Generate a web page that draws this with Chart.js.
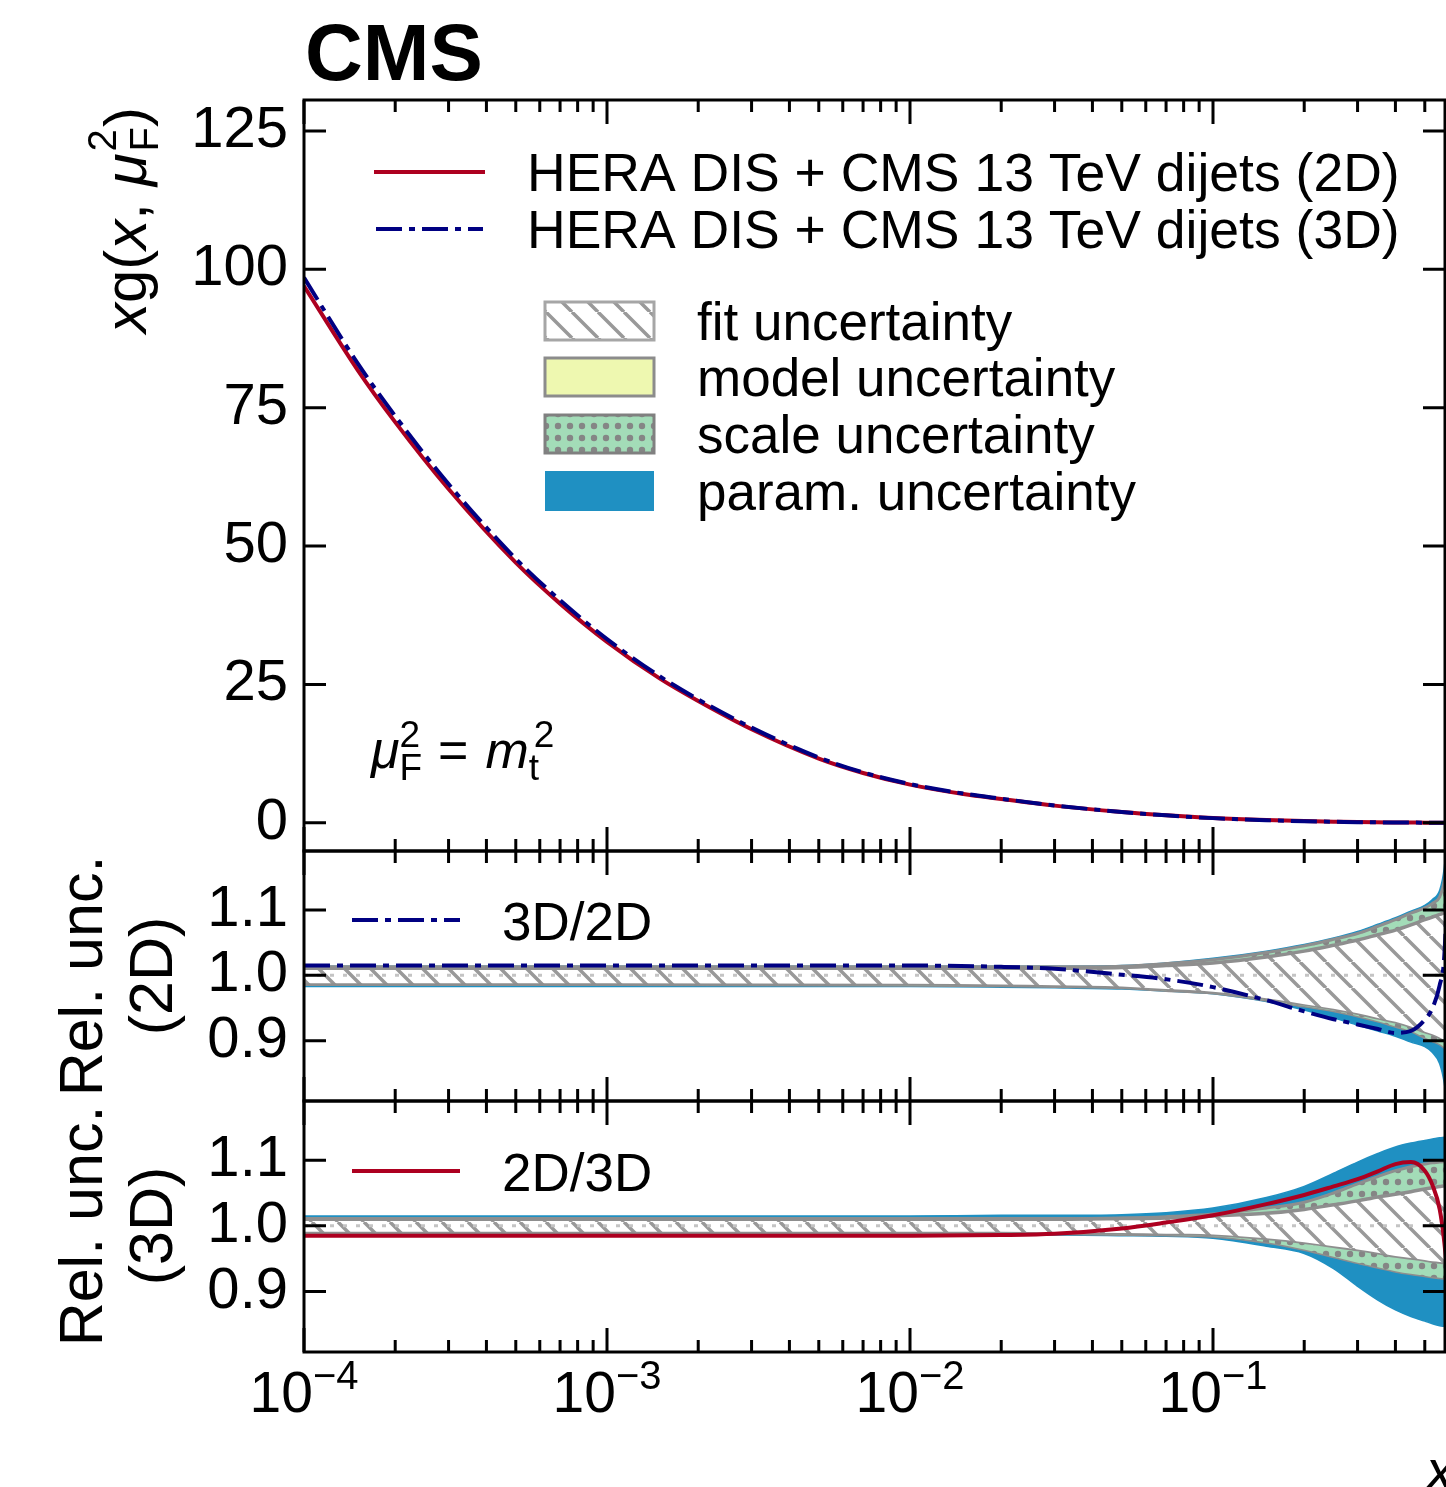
<!DOCTYPE html>
<html>
<head>
<meta charset="utf-8">
<script src="https://cdn.jsdelivr.net/npm/chart.js@4.4.1/dist/chart.umd.min.js"></script>
<style>
  html, body { margin: 0; padding: 0; background: #fff; overflow: hidden; }
  #wrap { position: relative; width: 1446px; height: 1487px; }
  canvas { position: absolute; left: 0; top: 0; }
</style>
</head>
<body>
<div id="wrap">
  <canvas id="main" width="1446" height="1487"></canvas>
  <canvas id="r2d" width="1446" height="1487"></canvas>
  <canvas id="r3d" width="1446" height="1487"></canvas>
</div>
<script>
"use strict";

// ---- data ----
const X_MIN = 1e-4;
const X_MAX = 0.583; // figure is cropped on the right

// top panel: x g(x, mu_F^2) at mu_F^2 = m_t^2
const xMain = [1e-4, 1.5e-4, 2e-4, 3e-4, 5e-4, 7e-4, 1e-3, 1.5e-3, 2e-3, 3e-3, 5e-3, 7e-3,
  1e-2, 1.5e-2, 2e-2, 3e-2, 5e-2, 7e-2, 0.1, 0.15, 0.2, 0.25, 0.3, 0.4, 0.45, 0.5, 0.53, 0.56, 0.58, 0.6];
const xg2D = [97.0, 81.9, 72.4, 60.3, 47.0, 39.6, 32.7, 26.0, 22.0, 16.9, 11.6, 9.0,
  6.9, 5.2, 4.3, 3.1, 1.95, 1.35, 0.85, 0.48, 0.3, 0.2, 0.12, 0.05, 0.035, 0.022, 0.018, 0.014, 0.012, 0.01];
const xg3D = [98.5, 83.1, 73.5, 61.2, 47.7, 40.2, 33.2, 26.4, 22.3, 17.2, 11.8, 9.1,
  7.0, 5.28, 4.35, 3.12, 1.95, 1.34, 0.84, 0.46, 0.28, 0.19, 0.11, 0.046, 0.032, 0.021, 0.018, 0.015, 0.013, 0.012];
const mainTicks = [0, 25, 50, 75, 100, 125];

// ratio panels
const xRatio = [1e-4, 1e-3, 1e-2, 2e-2, 3e-2, 5e-2, 7e-2, 0.1, 0.15, 0.2, 0.25, 0.3, 0.35, 0.4, 0.45, 0.5, 0.53, 0.56, 0.58, 0.6];
const ratioTicks = [0.9, 1.0, 1.1];
const refX = [1e-4, 0.6];
const refY = [1, 1];

// middle panel, relative to the 2D fit
const r3Dover2D = [1.015, 1.015, 1.015, 1.013, 1.010, 1.001, 0.994, 0.982, 0.962, 0.945, 0.933, 0.925, 0.918, 0.912, 0.915, 0.932, 0.950, 0.985, 1.030, 1.200];
const fit2Up    = [1.011, 1.011, 1.011, 1.011, 1.011, 1.012, 1.015, 1.019, 1.028, 1.037, 1.046, 1.054, 1.062, 1.069, 1.077, 1.085, 1.089, 1.093, 1.096, 1.100];
const fit2Dn    = [0.988, 0.988, 0.987, 0.986, 0.985, 0.983, 0.979, 0.975, 0.965, 0.956, 0.949, 0.942, 0.935, 0.929, 0.922, 0.914, 0.910, 0.905, 0.901, 0.897];
const model2Up  = [1.012, 1.012, 1.012, 1.012, 1.012, 1.013, 1.016, 1.020, 1.029, 1.038, 1.047, 1.055, 1.063, 1.070, 1.078, 1.086, 1.090, 1.094, 1.097, 1.101];
const model2Dn  = [0.987, 0.987, 0.986, 0.985, 0.984, 0.982, 0.978, 0.974, 0.964, 0.955, 0.948, 0.941, 0.934, 0.928, 0.921, 0.913, 0.909, 0.904, 0.900, 0.896];
const scale2Up  = [1.013, 1.013, 1.013, 1.013, 1.013, 1.014, 1.018, 1.024, 1.035, 1.045, 1.055, 1.064, 1.075, 1.085, 1.095, 1.103, 1.110, 1.120, 1.145, 1.200];
const scale2Dn  = [0.986, 0.986, 0.985, 0.984, 0.983, 0.981, 0.977, 0.973, 0.962, 0.953, 0.946, 0.938, 0.930, 0.922, 0.915, 0.905, 0.900, 0.895, 0.890, 0.885];
const param2Up  = [1.014, 1.014, 1.014, 1.014, 1.014, 1.015, 1.019, 1.026, 1.037, 1.047, 1.057, 1.067, 1.078, 1.088, 1.098, 1.107, 1.116, 1.130, 1.165, 1.250];
const param2Dn  = [0.983, 0.983, 0.983, 0.982, 0.981, 0.979, 0.976, 0.972, 0.960, 0.947, 0.935, 0.924, 0.915, 0.907, 0.898, 0.891, 0.882, 0.865, 0.835, 0.780];

// bottom panel, relative to the 3D fit
const r2Dover3D = [0.985, 0.985, 0.985, 0.986, 0.988, 0.996, 1.005, 1.016, 1.033, 1.047, 1.060, 1.071, 1.083, 1.094, 1.097, 1.084, 1.062, 1.025, 0.975, 0.900];
const fit3Up    = [1.010, 1.010, 1.010, 1.010, 1.010, 1.011, 1.012, 1.015, 1.019, 1.025, 1.032, 1.038, 1.044, 1.048, 1.052, 1.056, 1.058, 1.060, 1.061, 1.063];
const fit3Dn    = [0.991, 0.991, 0.991, 0.991, 0.990, 0.989, 0.988, 0.987, 0.981, 0.975, 0.969, 0.964, 0.959, 0.954, 0.951, 0.948, 0.946, 0.945, 0.944, 0.943];
const model3Up  = [1.011, 1.011, 1.011, 1.011, 1.011, 1.012, 1.013, 1.016, 1.020, 1.026, 1.033, 1.039, 1.045, 1.049, 1.053, 1.057, 1.059, 1.061, 1.062, 1.064];
const model3Dn  = [0.990, 0.990, 0.990, 0.990, 0.989, 0.988, 0.987, 0.986, 0.980, 0.974, 0.968, 0.963, 0.958, 0.953, 0.950, 0.947, 0.945, 0.944, 0.943, 0.942];
const scale3Up  = [1.011, 1.011, 1.011, 1.011, 1.011, 1.012, 1.014, 1.018, 1.027, 1.036, 1.050, 1.064, 1.075, 1.084, 1.090, 1.094, 1.096, 1.097, 1.098, 1.099];
const scale3Dn  = [0.989, 0.989, 0.989, 0.989, 0.988, 0.987, 0.986, 0.984, 0.975, 0.964, 0.953, 0.944, 0.937, 0.931, 0.927, 0.924, 0.922, 0.921, 0.920, 0.919];
const param3Up  = [1.015, 1.015, 1.015, 1.016, 1.016, 1.017, 1.020, 1.027, 1.043, 1.060, 1.080, 1.097, 1.110, 1.120, 1.126, 1.130, 1.132, 1.134, 1.135, 1.136];
const param3Dn  = [0.987, 0.987, 0.987, 0.986, 0.986, 0.985, 0.984, 0.981, 0.969, 0.958, 0.935, 0.908, 0.887, 0.872, 0.862, 0.855, 0.851, 0.848, 0.847, 0.846];

// ---- look ----
const W = 1446, H = 1487;
const LEFT = 304, RIGHT = 1445;
const FAMILY = '"Liberation Sans", Arial, Helvetica, sans-serif';
const RED = "#ad0020";
const NAVY = "#000082";
const PARAM = "#1f90c2";
const MODEL = "#eef8b0";
const EDGE = "#8e8e8e";
const DASHDOT = [26, 7, 6, 7];

const font = (size, italic, bold) => `${italic ? "italic " : ""}${bold ? "bold " : ""}${size}px ${FAMILY}`;

function hatchPattern() {
  const s = 26;
  const c = document.createElement("canvas");
  c.width = c.height = s;
  const g = c.getContext("2d");
  g.fillStyle = "#fff";
  g.fillRect(0, 0, s, s);
  g.strokeStyle = "#999";
  g.lineWidth = 3.5;
  g.beginPath();
  for (const k of [-s, 0, s]) { g.moveTo(k, 0); g.lineTo(k + s, s); }
  g.stroke();
  return g.createPattern(c, "repeat");
}

function dotPattern() {
  const s = 12;
  const c = document.createElement("canvas");
  c.width = c.height = s;
  const g = c.getContext("2d");
  g.fillStyle = "#a3dcb8";
  g.fillRect(0, 0, s, s);
  g.fillStyle = "#858585";
  g.beginPath();
  g.arc(6, 6, 3.2, 0, Math.PI * 2);
  g.fill();
  return g.createPattern(c, "repeat");
}

const HATCH = hatchPattern();
const DOTS = dotPattern();

// text with super/subscripts; each part may shift (dx, dy) and may not advance
function rich(ctx, x, y, parts, dry) {
  ctx.textAlign = "left";
  ctx.textBaseline = "alphabetic";
  for (const p of parts) {
    ctx.font = font(p.size, p.italic, p.bold);
    const dx = p.dx || 0;
    if (!dry) ctx.fillText(p.t, x + dx, y + (p.dy || 0));
    if (!p.noAdvance) x += dx + ctx.measureText(p.t).width;
  }
  return x;
}

const pts = (xs, ys) => xs.map((x, i) => ({ x, y: ys[i] }));

// inward ticks on all four sides + the box
function frame(extra) {
  return {
    id: "frame",
    afterDatasetsDraw(chart) {
      const { ctx, chartArea: a, scales } = chart;
      const xs = scales.x, ys = scales.y;
      ctx.save();
      ctx.strokeStyle = "#000";
      ctx.lineWidth = 3;
      ctx.beginPath();
      for (let d = -4; d <= 0; d++) {
        for (let m = 1; m <= 9; m++) {
          const v = m * Math.pow(10, d);
          if (v < xs.min || v > xs.max) continue;
          const px = xs.getPixelForValue(v);
          const len = m === 1 ? 24 : 12;
          ctx.moveTo(px, a.top); ctx.lineTo(px, a.top + len);
          ctx.moveTo(px, a.bottom); ctx.lineTo(px, a.bottom - len);
        }
      }
      for (const t of ys.ticks) {
        const py = ys.getPixelForValue(t.value);
        ctx.moveTo(a.left, py); ctx.lineTo(a.left + 22, py);
        ctx.moveTo(a.right, py); ctx.lineTo(a.right - 22, py);
      }
      ctx.stroke();
      ctx.strokeRect(a.left, a.top, a.right - a.left, a.bottom - a.top);
      ctx.restore();
    },
    afterDraw(chart) {
      const ctx = chart.ctx;
      ctx.save();
      ctx.fillStyle = "#000";
      extra(ctx, chart);
      ctx.restore();
    },
  };
}

function baseOptions(top, bottom, yMin, yMax, ticks, fmt) {
  return {
    responsive: false,
    animation: false,
    devicePixelRatio: 1,
    layout: { padding: { top, bottom: H - bottom, left: 0, right: W - RIGHT } },
    elements: { point: { radius: 0 }, line: { cubicInterpolationMode: "monotone" } },
    plugins: { legend: { display: false }, tooltip: { enabled: false } },
    scales: {
      x: { type: "logarithmic", min: X_MIN, max: X_MAX, display: false },
      y: {
        min: yMin,
        max: yMax,
        grid: { display: false, drawTicks: false },
        border: { display: false },
        afterFit: (s) => { s.width = LEFT; },
        afterBuildTicks: (s) => { s.ticks = ticks.map((v) => ({ value: v })); },
        ticks: { font: { family: FAMILY, size: 58 }, color: "#000", padding: 16, callback: fmt },
      },
    },
  };
}

function legendLine(ctx, x0, x1, y, color, dash) {
  ctx.save();
  ctx.strokeStyle = color;
  ctx.lineWidth = 4;
  ctx.setLineDash(dash || []);
  ctx.beginPath();
  ctx.moveTo(x0, y);
  ctx.lineTo(x1, y);
  ctx.stroke();
  ctx.restore();
}

function rotatedCentered(ctx, text, x, y, size) {
  ctx.save();
  ctx.translate(x, y);
  ctx.rotate(-Math.PI / 2);
  ctx.font = font(size);
  ctx.textAlign = "center";
  ctx.textBaseline = "alphabetic";
  ctx.fillText(text, 0, 0);
  ctx.restore();
}

// ---- top panel ----
new Chart(document.getElementById("main"), {
  type: "line",
  data: {
    datasets: [
      { data: pts(xMain, xg3D), borderColor: NAVY, borderWidth: 4, borderDash: DASHDOT, fill: false },
      { data: pts(xMain, xg2D), borderColor: RED, borderWidth: 4, fill: false },
    ],
  },
  options: baseOptions(100, 851, -5.1, 130.6, mainTicks, (v) => String(v)),
  plugins: [frame((ctx) => {
    rich(ctx, 305, 80, [{ t: "CMS", size: 80, bold: true }]);

    // y title, rotated and aligned to the top of the axis
    ctx.save();
    ctx.translate(146, 333);
    ctx.rotate(-Math.PI / 2);
    rich(ctx, 0, 0, [
      { t: "x", size: 60, italic: true }, { t: "g", size: 60 }, { t: "(", size: 60 },
      { t: "x", size: 60, italic: true }, { t: ", ", size: 60 }, { t: "μ", size: 60, italic: true },
      { t: "2", size: 40, dy: -30, dx: 2, noAdvance: true }, { t: "F", size: 40, dy: 12, dx: 2 },
      { t: ")", size: 60 },
    ]);
    ctx.restore();

    legendLine(ctx, 374, 485, 172, RED);
    legendLine(ctx, 376, 483, 229, NAVY, DASHDOT);
    rich(ctx, 527, 191, [{ t: "HERA DIS + CMS 13 TeV dijets (2D)", size: 53.5 }]);
    rich(ctx, 527, 248, [{ t: "HERA DIS + CMS 13 TeV dijets (3D)", size: 53.5 }]);

    const patches = [
      [302, 38, HATCH, "#a6a6a6", "fit uncertainty"],
      [358, 38, MODEL, "#8c8c8c", "model uncertainty"],
      [415, 38, DOTS, "#808080", "scale uncertainty"],
      [471, 40, PARAM, null, "param. uncertainty"],
    ];
    for (const [y, h, fillStyle, stroke, label] of patches) {
      ctx.fillStyle = fillStyle;
      ctx.fillRect(545, y, 109, h);
      if (stroke) {
        ctx.strokeStyle = stroke;
        ctx.lineWidth = 3;
        ctx.strokeRect(545, y, 109, h);
      }
      ctx.fillStyle = "#000";
      rich(ctx, 697, y + h / 2 + 19, [{ t: label, size: 53 }]);
    }

    rich(ctx, 371, 768, [
      { t: "μ", size: 52, italic: true },
      { t: "2", size: 37, dy: -21, noAdvance: true }, { t: "F", size: 37, dy: 12 },
      { t: "=", size: 52, dx: 16 }, { t: "m", size: 52, italic: true, dx: 17 },
      { t: "2", size: 37, dy: -21, dx: 5, noAdvance: true }, { t: "t", size: 37, dy: 12 },
    ]);
  })],
});

// ---- ratio panels ----
function ratioDatasets(ratio, ratioColor, ratioDash, bands) {
  const [fitUp, fitDn, modelUp, modelDn, scaleUp, scaleDn, paramUp, paramDn] = bands;
  return [
    { data: pts(xRatio, ratio), borderColor: ratioColor, borderWidth: 4, borderDash: ratioDash || [], fill: false },
    { data: pts(refX, refY), borderColor: "#c4c4c4", borderWidth: 3, borderDash: [4, 9], fill: false },
    { data: pts(xRatio, fitUp), borderColor: EDGE, borderWidth: 3.5, fill: "+1", backgroundColor: HATCH },
    { data: pts(xRatio, fitDn), borderColor: EDGE, borderWidth: 3.5, fill: false },
    { data: pts(xRatio, modelUp), borderColor: "rgba(0,0,0,0)", borderWidth: 0, fill: "+1", backgroundColor: MODEL },
    { data: pts(xRatio, modelDn), borderColor: "rgba(0,0,0,0)", borderWidth: 0, fill: false },
    { data: pts(xRatio, scaleUp), borderColor: EDGE, borderWidth: 3, fill: "+1", backgroundColor: DOTS },
    { data: pts(xRatio, scaleDn), borderColor: EDGE, borderWidth: 3, fill: false },
    { data: pts(xRatio, paramUp), borderColor: PARAM, borderWidth: 1.5, fill: "+1", backgroundColor: PARAM },
    { data: pts(xRatio, paramDn), borderColor: PARAM, borderWidth: 1.5, fill: false },
  ];
}

const fmtRatio = (v) => v.toFixed(1);

new Chart(document.getElementById("r2d"), {
  type: "line",
  data: {
    datasets: ratioDatasets(r3Dover2D, NAVY, DASHDOT,
      [fit2Up, fit2Dn, model2Up, model2Dn, scale2Up, scale2Dn, param2Up, param2Dn]),
  },
  options: baseOptions(851, 1101, 0.808, 1.19, ratioTicks, fmtRatio),
  plugins: [frame((ctx) => {
    rotatedCentered(ctx, "Rel. unc.", 102, 976, 61);
    rotatedCentered(ctx, "(2D)", 172, 976, 61);
    legendLine(ctx, 352, 460, 920, NAVY, DASHDOT);
    rich(ctx, 502, 940, [{ t: "3D/2D", size: 53 }]);
  })],
});

new Chart(document.getElementById("r3d"), {
  type: "line",
  data: {
    datasets: ratioDatasets(r2Dover3D, RED, null,
      [fit3Up, fit3Dn, model3Up, model3Dn, scale3Up, scale3Dn, param3Up, param3Dn]),
  },
  options: baseOptions(1101, 1352, 0.808, 1.19, ratioTicks, fmtRatio),
  plugins: [frame((ctx, chart) => {
    rotatedCentered(ctx, "Rel. unc.", 102, 1226, 61);
    rotatedCentered(ctx, "(3D)", 172, 1226, 61);
    legendLine(ctx, 352, 460, 1171, RED);
    rich(ctx, 502, 1191, [{ t: "2D/3D", size: 53 }]);

    // decade labels under the shared x axis
    const xs = chart.scales.x;
    for (let d = -4; d <= -1; d++) {
      const parts = [{ t: "10", size: 57 }, { t: "−" + Math.abs(d), size: 40, dy: -23 }];
      const w = rich(ctx, 0, 0, parts, true);
      rich(ctx, xs.getPixelForValue(Math.pow(10, d)) - w / 2, 1412, parts);
    }
    rich(ctx, 1426, 1490, [{ t: "x", size: 57, italic: true }]);
  })],
});
</script>
</body>
</html>
